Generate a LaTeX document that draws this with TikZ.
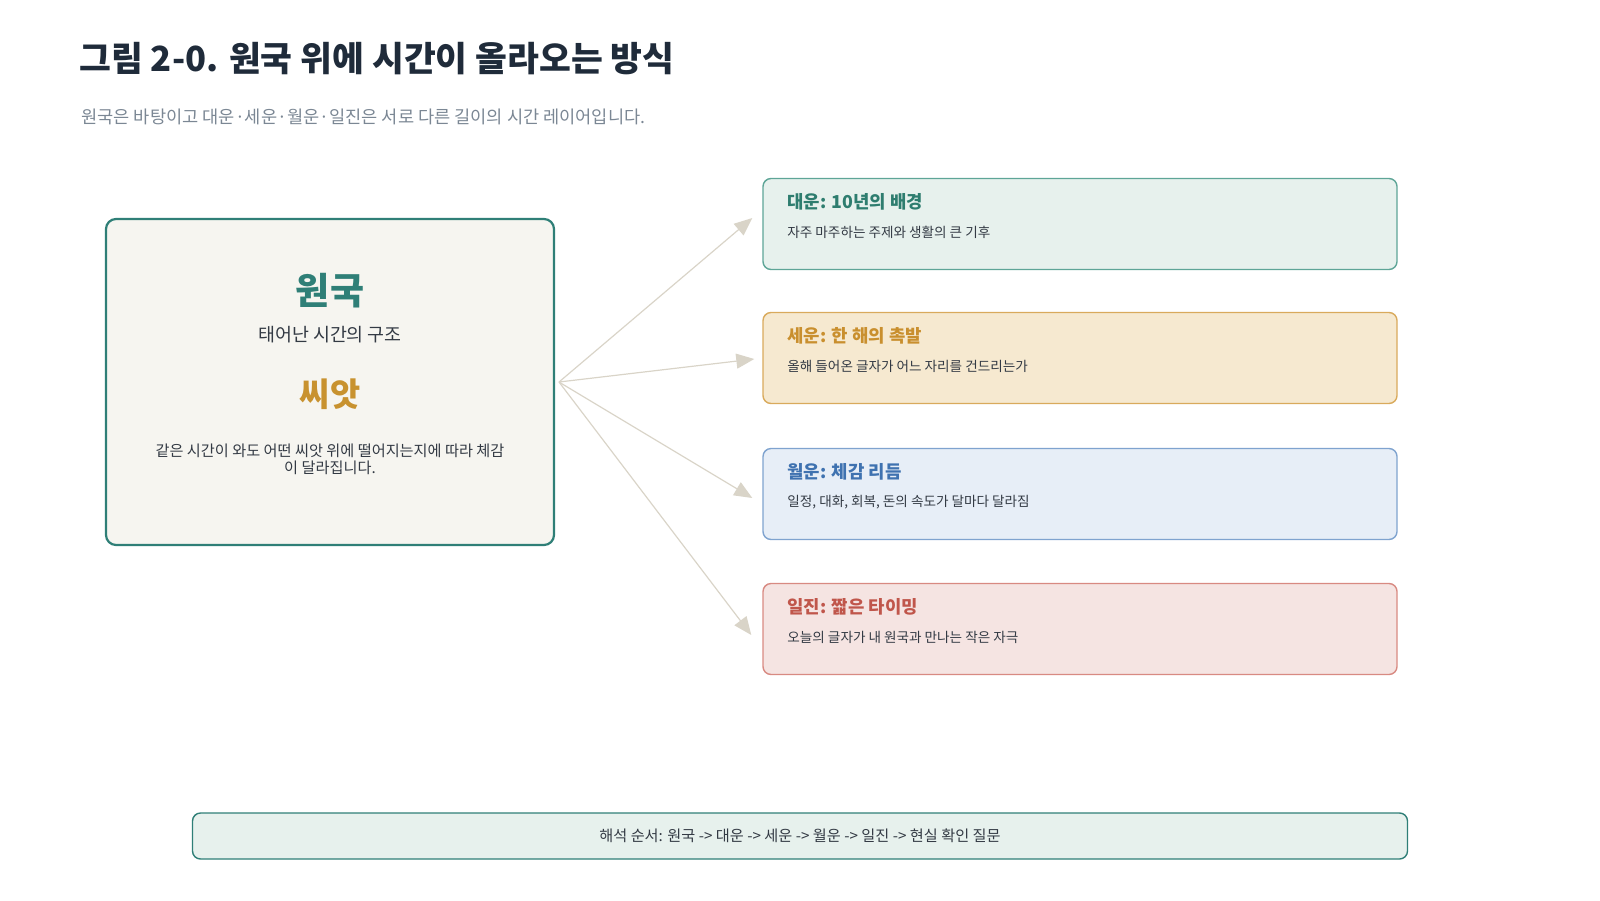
\documentclass[tikz,border=0pt]{standalone}
\usepackage{fontspec}
\setmainfont{Noto Sans CJK KR}
\usetikzlibrary{arrows.meta,calc}

\definecolor{inkdark}{HTML}{1F2B3A}
\definecolor{inkgrey}{HTML}{7B8794}
\definecolor{inkbody}{HTML}{333A44}
\definecolor{tealline}{HTML}{2F7F77}
\definecolor{basefill}{HTML}{F6F5F0}
\definecolor{seedgold}{HTML}{C8922F}
\definecolor{arrowgrey}{HTML}{D9D4C8}
\definecolor{dae-fill}{HTML}{E7F1ED}
\definecolor{dae-line}{HTML}{5EA597}
\definecolor{dae-text}{HTML}{2E7D6F}
\definecolor{se-fill}{HTML}{F6E9D0}
\definecolor{se-line}{HTML}{D9AA5C}
\definecolor{se-text}{HTML}{C98F2E}
\definecolor{wol-fill}{HTML}{E7EEF7}
\definecolor{wol-line}{HTML}{7FA3CF}
\definecolor{wol-text}{HTML}{3F72B0}
\definecolor{il-fill}{HTML}{F5E4E2}
\definecolor{il-line}{HTML}{D88A82}
\definecolor{il-text}{HTML}{C0564B}

\begin{document}
\begin{tikzpicture}[x=0.5pt, y=-0.5pt, >=Stealth,
    layerbox/.style={rounded corners=4pt, line width=0.7pt, minimum width=317pt, minimum height=45.5pt, inner sep=0pt},
    flow/.style={draw=arrowgrey, line width=0.6pt, -{Triangle[length=9pt, width=7.5pt]}}]
    \useasboundingbox (0,0) rectangle (1600,900);

    % 제목
    \node[anchor=west, inner sep=0pt, text=inkdark, font=\fontsize{17.3}{20}\selectfont\bfseries] (title) at (79,59) {그림 2-0. 원국 위에 시간이 올라오는 방식};
    \node[anchor=west, inner sep=0pt, text=inkgrey, font=\fontsize{8.8}{10}\selectfont] (subtitle) at (81,117) {원국은 바탕이고 대운·세운·월운·일진은 서로 다른 길이의 시간 레이어입니다.};

    % 원국 상자
    \node[draw=tealline, fill=basefill, line width=1.1pt, rounded corners=5pt, minimum width=224pt, minimum height=163pt, inner sep=0pt] (wonguk) at (330,382) {};
    \node[text=tealline, font=\fontsize{18.5}{22}\selectfont\bfseries] (wontitle) at (330,291) {원국};
    \node[text=inkbody, font=\fontsize{9.2}{11}\selectfont] (wonsub) at (330,335) {태어난 시간의 구조};
    \node[text=seedgold, font=\fontsize{16.4}{19}\selectfont\bfseries] (seed) at (330,394) {씨앗};
    \node[text=inkbody, align=center, font=\fontsize{7.6}{8.7}\selectfont] (seeddesc) at (330,459) {같은 시간이 와도 어떤 씨앗 위에 떨어지는지에 따라 체감\\이 달라집니다.};

    % 시간 레이어 상자
    \foreach \nm/\yc/\col/\ttl/\txt in {
        daeun/224/dae/{대운: 10년의 배경}/{자주 마주하는 주제와 생활의 큰 기후},
        seun/358/se/{세운: 한 해의 촉발}/{올해 들어온 글자가 어느 자리를 건드리는가},
        wolun/494/wol/{월운: 체감 리듬}/{일정, 대화, 회복, 돈의 속도가 달마다 달라짐},
        iljin/629/il/{일진: 짧은 타이밍}/{오늘의 글자가 내 원국과 만나는 작은 자극}} {
        \node[layerbox, draw=\col-line, fill=\col-fill] (\nm) at (1080,\yc) {};
        \node[anchor=west, inner sep=0pt, text=\col-text, font=\fontsize{8.9}{10}\selectfont\bfseries] (\nm-title) at (787,\yc-22) {\ttl};
        \node[anchor=west, inner sep=0pt, text=inkbody, font=\fontsize{6.8}{8}\selectfont] (\nm-desc) at (787,\yc+8) {\txt};
    }

    % 화살표
    \coordinate (hub) at (559,382);
    \foreach \nm/\dx/\dy in {daeun/-10/-6, seun/-8/1, wolun/-10/4, iljin/-11/6}
        \draw[flow] (hub) -- ($(\nm.west)+(\dx,\dy)$);

    % 해석 순서
    \node[draw=tealline, fill=dae-fill, line width=0.7pt, rounded corners=4pt, minimum width=607.5pt, minimum height=23pt, inner sep=0pt, text=inkbody, font=\fontsize{7.6}{8}\selectfont] (order) at (800,836) {해석 순서: 원국 -> 대운 -> 세운 -> 월운 -> 일진 -> 현실 확인 질문};
\end{tikzpicture}
\end{document}
